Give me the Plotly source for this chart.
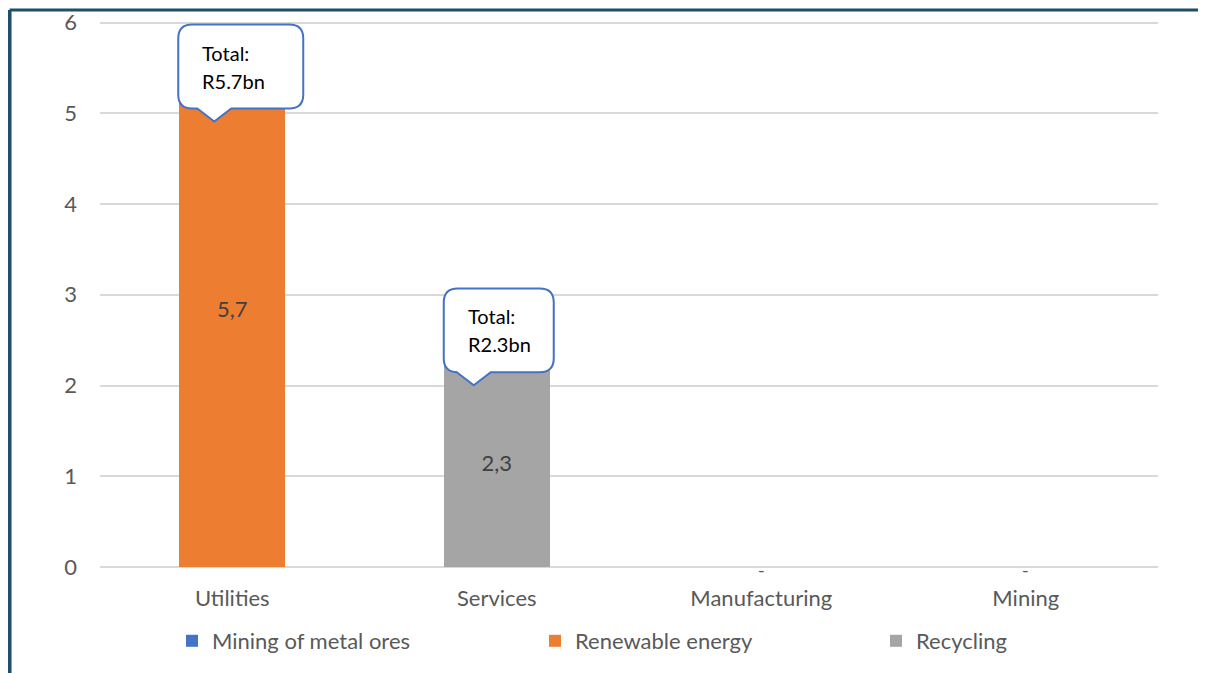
import plotly.graph_objects as go

categories = ["Utilities", "Services", "Manufacturing", "Mining"]
mining_metal_ores = [0, 0, 0, 0]
renewable_energy = [5.7, 0, 0, 0]
recycling = [0, 2.3, 0, 0]
callout_texts = {0: ["Total:", "R5.7bn"], 1: ["Total:", "R2.3bn"]}
y_ticks = [0, 1, 2, 3, 4, 5, 6]

FONT = "Lato"
TICK_COLOR = "#595959"
W, H = 1206, 673
OFF = 8  # page body margin offset
Y_TOP = 6.05
T_MARGIN = 9.5

xs = list(range(len(categories)))
totals = [a + b + c for a, b, c in zip(mining_metal_ores, renewable_energy, recycling)]

fig = go.Figure()
series = [
    ("Mining of metal ores", mining_metal_ores, "#4472C4", "legend", 172),
    ("Renewable energy", renewable_energy, "#ED7D31", "legend2", 535),
    ("Recycling", recycling, "#A5A5A5", "legend3", 876),
]
for name, vals, col, lg, _ in series:
    fig.add_bar(
        x=xs, y=vals, name=name, marker_color=col, marker_line_width=0, legend=lg,
        text=[f"{v:.1f}".replace(".", ",") if v else "" for v in vals],
        textposition="inside", insidetextanchor="middle",
        textfont=dict(family=FONT, size=22, color="#404040"),
    )

# "-" labels for zero totals
for i, t in enumerate(totals):
    if t == 0:
        fig.add_annotation(x=i, y=0, text="-", showarrow=False, yanchor="middle", yshift=-3,
                           font=dict(family=FONT, size=18, color=TICK_COLOR))

# callouts: geometry relative to bars (axis units)
PX_X = 1 / 264.5   # axis units per pixel (x)
PX_Y = 6 / 545     # axis units per pixel (y)

def callout_path(xc, left_px, right_px, top_y, height_px, tip_px, tip_h_px):
    r = 14
    L = xc + left_px * PX_X
    R = xc + right_px * PX_X
    T = top_y
    B = top_y - height_px * PX_Y
    rx, ry = r * PX_X, r * PX_Y
    tx = xc + tip_px * PX_X
    hb = 17 * PX_X
    ty = B - tip_h_px * PX_Y
    p = (f"M{L+rx},{T} L{R-rx},{T} Q{R},{T} {R},{T-ry} L{R},{B+ry} Q{R},{B} {R-rx},{B} "
         f"L{tx+hb},{B} L{tx},{ty} L{tx-hb},{B} L{L+rx},{B} Q{L},{B} {L},{B+ry} "
         f"L{L},{T-ry} Q{L},{T} {L+rx},{T} Z")
    return p, L, T

callouts = [
    (0, -54, 71, 6 - 2 * PX_Y, 84, -18, 13),
    (1, -53, 57, 3.07, 84, -23, 13),
]
for xi, lp, rp, ty, hp, tp, th in callouts:
    path, L, T = callout_path(xi, lp, rp, ty, hp, tp, th)
    fig.add_shape(type="path", path=path, xref="x", yref="y",
                  line=dict(color="#4472C4", width=2), fillcolor="white", layer="above")
    for k, line in enumerate(callout_texts[xi]):
        fig.add_annotation(x=L, y=T, xref="x", yref="y", text=line, showarrow=False,
                           xanchor="left", yanchor="middle", xshift=22, yshift=-28 - 28 * k,
                           font=dict(family=FONT, size=20, color="#000000"))

# frame decoration (dark border top & left)
plot_h = H - T_MARGIN - (106 + OFF)
top_py = 1 + (T_MARGIN - 1.5) / plot_h
fig.add_shape(type="line", xref="paper", yref="paper", x0=-0.0855, x1=1.1, y0=top_py, y1=top_py,
              line=dict(color="#1F4E69", width=3))
fig.add_shape(type="line", xref="paper", yref="paper", x0=-0.0855, x1=-0.0855, y0=top_py, y1=-0.25,
              line=dict(color="#1F4E69", width=4))

legend_common = dict(orientation="h", xref="container", xanchor="left",
                     yref="container", y=1 - (641 - OFF) / H, yanchor="middle",
                     bgcolor="rgba(0,0,0,0)",
                     font=dict(family=FONT, size=22, color=TICK_COLOR))
legends = {}
for name, vals, col, lg, lx in series:
    legends[lg] = dict(legend_common, x=(lx - OFF) / W)

fig.update_layout(
    width=W, height=H,
    margin=dict(l=100 - OFF, r=48 + OFF, t=T_MARGIN, b=106 + OFF, autoexpand=False),
    barmode="stack", bargap=0.6,
    plot_bgcolor="white", paper_bgcolor="white",
    font=dict(family=FONT, color=TICK_COLOR),
    showlegend=True,
    uniformtext=dict(mode="show", minsize=10),
    **legends,
)
fig.update_xaxes(tickvals=xs, ticktext=categories, range=[-0.5, len(categories) - 0.5],
                 showgrid=False, zeroline=False, showline=False, ticks="",
                 tickfont=dict(family=FONT, size=22, color=TICK_COLOR), ticklabelstandoff=16)
fig.update_yaxes(range=[0, Y_TOP], tickvals=y_ticks, showgrid=True, gridcolor="#D9D9D9", gridwidth=1.5,
                 zeroline=True, zerolinecolor="#D9D9D9", zerolinewidth=2, showline=False, ticks="",
                 ticklabeloverflow="allow",
                 tickfont=dict(family=FONT, size=22, color=TICK_COLOR), ticklabelstandoff=22)

fig.write_html("out.html")
